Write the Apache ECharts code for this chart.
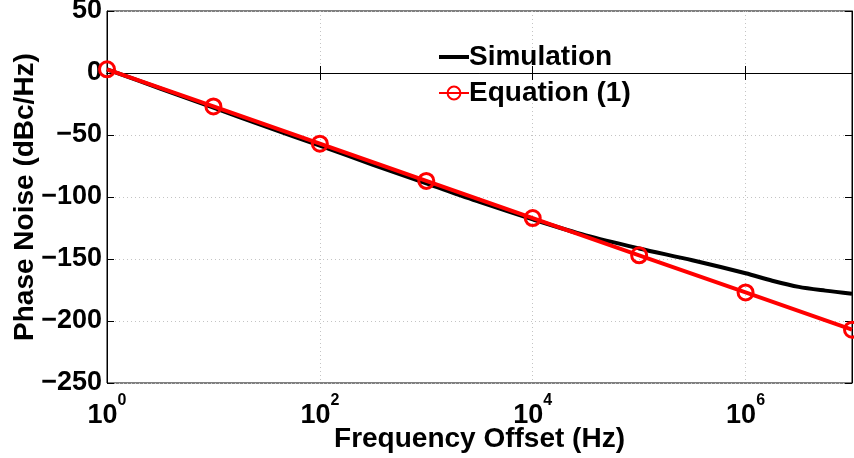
<!DOCTYPE html>
<html>
<head>
<meta charset="utf-8">
<script src="https://cdn.jsdelivr.net/npm/echarts@6/dist/echarts.min.js"></script>
<style>
  html, body { margin: 0; padding: 0; background: #fff; }
  #chart { width: 854px; height: 458px; }
</style>
</head>
<body>
<div id="chart"></div>
<script>
// 频率点 (Hz) 与相位噪声 (dBc/Hz)
var simFreq = [1, 3.16, 10, 31.6, 100, 316, 1e3, 3.16e3, 1e4, 3.16e4, 1e5, 3.16e5, 1e6, 1.78e6, 3.16e6, 5.62e6, 1e7];
var simNoise = [3, -12.5, -28, -43.5, -58.5, -74, -89, -104, -118, -131, -141.5, -151, -161.5, -167.5, -172.5, -175.5, -178];
var eqFreq = [1, 10, 100, 1e3, 1e4, 1e5, 1e6, 1e7];
var eqNoise = [3, -27, -57, -87, -117, -147, -177, -207];
var yTicks = [-250, -200, -150, -100, -50, 0, 50];

var FONT = '"Liberation Sans", Arial, sans-serif';

var chart = echarts.init(document.getElementById('chart'));

function pairs(xs, ys) {
  return xs.map(function (x, i) { return [x, ys[i]]; });
}

// 只在偶数次幂显示 10^n
function xLabel(v) {
  var e = Math.log10(v);
  if (Math.abs(e - Math.round(e)) > 1e-6) return '';
  e = Math.round(e);
  if (e % 2 !== 0) return '';
  return '{b|10}{s|' + e + '}';
}

var axisLine = { show: true, lineStyle: { color: '#000', width: 1 } };
var axisTick = { show: true, inside: true, length: 7, lineStyle: { color: '#000', width: 1 } };
var splitLine = { show: true, lineStyle: { color: '#c4c4c4', type: [1, 3], width: 1 } };

var option = {
  animation: false,
  backgroundColor: '#fff',
  textStyle: { fontFamily: FONT },
  grid: {
    left: 107, right: 2, top: 11, bottom: 75,
    outerBoundsMode: 'none', containLabel: false,
    show: true, borderColor: '#000', borderWidth: 1
  },
  legend: {
    orient: 'vertical',
    left: 433, top: 38,
    itemWidth: 30, itemHeight: 16, itemGap: 8,
    textStyle: { fontFamily: FONT, fontWeight: 'bold', fontSize: 28, color: '#000', lineHeight: 28, padding: [0, 0, 0, -5] },
    data: [
      { name: 'Simulation', icon: 'path://M0,0L30,0L30,4L0,4Z' },
      { name: 'Equation (1)' }
    ]
  },
  xAxis: [{
    type: 'log', logBase: 100, min: 1, max: 1e7,
    name: 'Frequency Offset (Hz)', nameLocation: 'middle', nameGap: 42, nameMoveOverlap: false,
    nameTextStyle: { fontFamily: FONT, fontWeight: 'bold', fontSize: 28, color: '#000' },
    axisLine: axisLine, axisTick: axisTick, splitLine: splitLine,
    axisLabel: {
      margin: 19, color: '#000', formatter: xLabel,
      rich: {
        b: { fontFamily: FONT, fontWeight: 'bold', fontSize: 27, color: '#000', verticalAlign: 'bottom', lineHeight: 27 },
        s: { fontFamily: FONT, fontWeight: 'bold', fontSize: 16, color: '#000', verticalAlign: 'bottom', lineHeight: 16, padding: [0, 0, 20, 0] }
      }
    }
  }, {
    type: 'log', logBase: 100, min: 1, max: 1e7, position: 'top',
    axisLine: axisLine, axisTick: axisTick, axisLabel: { show: false }, splitLine: { show: false }
  }],
  yAxis: [{
    type: 'value', min: yTicks[0], max: yTicks[yTicks.length - 1], interval: 50,
    name: 'Phase Noise (dBc/Hz)', nameLocation: 'middle', nameGap: 68, nameRotate: 90, nameMoveOverlap: false,
    nameTextStyle: { fontFamily: FONT, fontWeight: 'bold', fontSize: 28, color: '#000' },
    axisLine: axisLine, axisTick: axisTick,
    splitLine: splitLine,
    axisLabel: {
      margin: 5, color: '#000', fontFamily: FONT, fontWeight: 'bold', fontSize: 27,
      formatter: function (v) { return v < 0 ? '\u2212' + (-v) : String(v); }
    }
  }, {
    type: 'value', min: yTicks[0], max: yTicks[yTicks.length - 1], interval: 50, position: 'right',
    axisLine: axisLine, axisTick: axisTick, axisLabel: { show: false }, splitLine: { show: false }
  }],
  series: [
    {
      name: 'Simulation', type: 'line',
      data: pairs(simFreq, simNoise),
      smooth: 0.3, showSymbol: false, symbol: 'none',
      lineStyle: { color: '#000', width: 4 },
      itemStyle: { color: '#000' }
    },
    {
      name: 'Equation (1)', type: 'line',
      data: pairs(eqFreq, eqNoise),
      symbol: 'circle', symbolSize: 15,
      lineStyle: { color: '#ff0000', width: 4 },
      itemStyle: { color: 'rgba(0,0,0,0)', borderColor: '#ff0000', borderWidth: 3 }
    }
  ]
};

chart.setOption(option);
</script>
</body>
</html>
